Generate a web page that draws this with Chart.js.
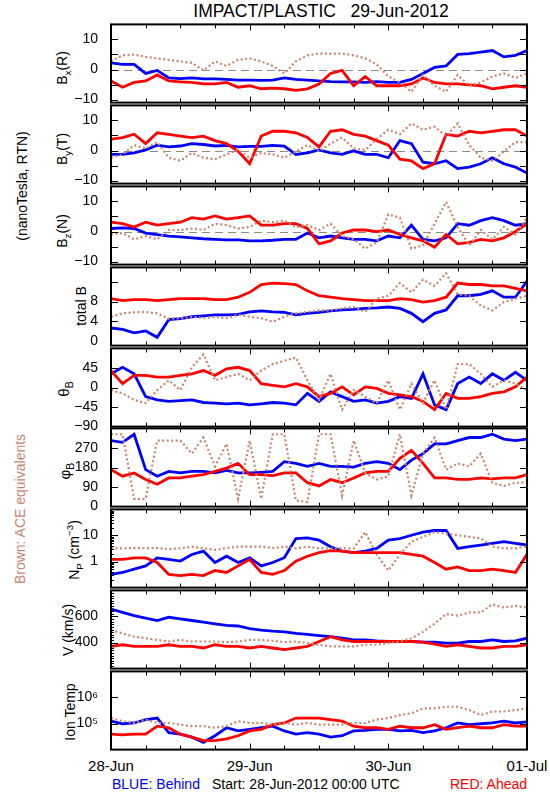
<!DOCTYPE html>
<html>
<head>
<meta charset="utf-8">
<script src="https://cdn.jsdelivr.net/npm/chart.js@4.4.1/dist/chart.umd.min.js"></script>
<style>
  body { margin: 0; width: 550px; height: 800px; background: #fff; position: relative; overflow: hidden;
         font-family: "Liberation Sans", Arial, sans-serif; }
  canvas { position: absolute; left: 0; }
  .lbl { position: absolute; white-space: nowrap; color: #000; line-height: 1; }
  .rot { transform: translate(-50%, -50%) rotate(-90deg); }
  .ctr { transform: translate(-50%, -50%); }
  sub { font-size: 70%; vertical-align: -0.35em; }
  sup { font-size: 70%; vertical-align: 0.6em; }
</style>
</head>
<body>

<div class="lbl ctr" style="left:321px;top:12px;font-size:17.5px">IMPACT/PLASTIC&nbsp;&nbsp;&nbsp;29-Jun-2012</div>

<div class="lbl rot" style="left:22px;top:186px;font-size:14px">(nanoTesla, RTN)</div>
<div class="lbl rot" style="left:20px;top:509px;font-size:14px;color:#c8866e">Brown: ACE equivalents</div>

<div class="lbl rot" style="left:64px;top:68px;font-size:14px">B<sub>x</sub>(R)</div>
<div class="lbl rot" style="left:64px;top:149px;font-size:14px">B<sub>y</sub>(T)</div>
<div class="lbl rot" style="left:64px;top:231px;font-size:14px">B<sub>z</sub>(N)</div>
<div class="lbl rot" style="left:81px;top:306px;font-size:14px">total B</div>
<div class="lbl rot" style="left:65px;top:389px;font-size:15px">θ<sub>B</sub></div>
<div class="lbl rot" style="left:66px;top:471px;font-size:15px">φ<sub>B</sub></div>
<div class="lbl rot" style="left:75px;top:550px;font-size:14px">N<sub>P</sub> (cm<sup>−3</sup>)</div>
<div class="lbl rot" style="left:68px;top:630px;font-size:14px">V (km/s)</div>
<div class="lbl rot" style="left:70px;top:712px;font-size:14px">Ion Temp</div>

<div id="days"></div>
<div class="lbl" style="left:112px;top:777px;font-size:14px;color:#0000ff">BLUE: Behind</div>
<div class="lbl" style="left:212px;top:777px;font-size:14px">Start: 28-Jun-2012 00:00 UTC</div>
<div class="lbl" style="left:450px;top:777px;font-size:14px;color:#ff0000">RED: Ahead</div>

<script>
// --- time axis (hours since 28-Jun-2012 00:00) ---
const HOURS = [0,2,4,6,8,10,12,14,16,18,20,22,24,26,28,30,32,34,36,38,40,42,44,46,48,50,52,54,56,58,60,62,64,66,68,70,72];
const DAY_HOURS = [0, 24, 48, 72];
const DAY_LABELS = ['28-Jun', '29-Jun', '30-Jun', '01-Jul'];
const X_TICKS = [6,12,18,24,30,36,42,48,54,60,66];

// --- Bx (R) ---
const bxBlue = [2.2,1.7,1.7,-1.3,-0.3,-2.8,-3.0,-2.8,-3.1,-3.1,-3.3,-3.5,-3.5,-3.6,-3.5,-2.8,-3.3,-3.5,-3.8,-4.0,-4.1,-4.1,-4.3,-4.0,-4.3,-4.3,-3.3,-1.3,0.7,1.2,5.0,5.3,5.8,6.3,4.2,4.7,6.3];
const bxRed  = [-3.8,-5.9,-4.3,-3.8,-1.8,-3.8,-4.1,-4.3,-4.8,-4.8,-4.3,-5.9,-5.4,-6.4,-6.2,-6.4,-6.9,-6.4,-4.8,-1.3,-0.3,-5.4,-2.3,-5.4,-5.4,-5.4,-4.8,-2.8,-4.3,-4.8,-4.8,-5.1,-5.4,-6.4,-5.9,-5.4,-5.9];
const bxAce  = [2.7,4.7,5.0,4.2,3.7,3.2,2.7,2.2,-0.3,2.7,1.2,3.2,3.7,2.7,1.2,-1.3,2.7,4.7,5.3,5.3,5.3,4.7,3.7,1.7,-2.3,-4.3,-7.4,-1.8,-5.4,-7.4,-1.8,-5.4,-4.3,-2.3,-1.3,-2.8,-1.3];

// --- By (T) ---
const byBlue = [-1.3,-1.3,-0.8,0.2,1.8,1.2,1.5,2.3,2.0,1.5,1.7,1.2,1.4,1.4,1.7,1.5,-1.3,-0.8,0.2,-0.8,-1.3,-0.1,-1.3,-1.3,-2.4,3.3,2.3,-3.9,-4.4,-3.4,-6.0,-5.5,-4.4,-2.4,-4.4,-5.5,-7.5];
const byRed  = [3.8,4.3,5.4,2.3,5.9,5.4,4.8,4.3,4.8,3.3,2.3,-0.3,-4.4,4.8,6.4,6.4,5.9,4.3,1.2,6.4,6.9,5.4,4.8,3.3,1.8,-2.9,-3.4,-6.0,-4.4,5.4,4.8,6.4,5.9,6.4,6.9,6.9,4.8];
const byAce  = [-2.4,-1.3,1.8,0.7,2.8,-2.4,-3.4,-0.8,-2.4,-2.9,-1.3,0.2,-2.4,-0.8,-1.3,-2.4,-0.3,1.8,-0.3,2.3,4.3,0.7,0.2,3.8,6.9,5.4,9.0,6.9,7.9,4.8,9.0,1.8,-2.4,-3.4,-0.3,2.8,2.8];

// --- Bz (N) ---
const bzBlue = [1.0,1.2,1.0,-0.5,-1.0,-1.5,-1.8,-2.1,-2.4,-2.6,-2.8,-2.8,-3.1,-3.1,-2.9,-2.6,-2.6,-0.5,-2.1,-1.5,-2.1,-2.6,-2.6,-3.1,-1.5,-2.1,2.1,-2.6,-3.1,-2.1,2.6,2.1,3.6,4.6,3.6,2.1,2.6];
const bzRed  = [3.1,2.6,1.5,3.1,2.1,2.6,3.1,4.6,4.1,5.2,4.1,4.6,5.2,2.1,2.1,2.6,2.6,1.0,-4.1,-3.1,-0.5,0.5,0.5,0.0,0.5,-1.0,-2.1,-3.1,-5.2,-1.0,-4.1,-3.6,-2.6,-3.1,-2.1,0.0,2.6];
const bzAce  = [-1.0,-0.5,-2.6,-1.5,-2.6,0.5,0.5,1.0,0.5,2.6,2.1,1.0,1.5,3.6,3.1,3.6,1.5,2.1,0.5,2.6,-1.5,-2.6,-5.7,-3.6,5.7,4.6,-5.7,-4.6,2.6,9.8,1.5,-4.6,0.5,-2.6,1.5,-1.0,4.6];

// --- total B ---
const btBlue = [2.6,2.3,1.6,2.0,0.7,4.3,4.5,4.9,5.1,5.3,5.3,5.4,5.9,6.1,5.9,5.8,5.3,5.6,5.8,6.1,6.3,6.4,6.6,6.7,6.9,6.6,5.6,3.9,5.6,6.3,9.2,9.2,9.5,10.2,8.9,8.9,12.2];
const btRed  = [8.6,8.2,8.4,8.4,8.2,8.4,8.6,8.6,8.6,8.4,8.4,8.9,9.9,11.5,11.8,11.7,11.5,10.2,9.2,8.9,8.6,8.4,8.2,8.2,8.2,8.6,8.4,7.9,8.2,8.9,11.8,11.5,11.5,11.2,11.2,10.7,10.2];
const btAce  = [4.9,5.6,5.8,5.9,5.6,4.5,4.6,4.9,4.6,4.9,4.6,5.3,4.9,4.6,3.9,4.9,5.6,5.9,6.2,6.2,6.6,6.9,5.9,8.6,9.2,11.8,9.9,12.5,11.2,13.8,9.5,9.2,7.2,6.2,7.9,8.6,9.2];

// --- theta B (deg) ---
const thBlue = [31.5,46.5,31.5,-21,-28.5,-32,-30,-28.5,-34.5,-36,-37.5,-36,-40,-37.5,-34.5,-36,-40,-13.5,-32,-10,-21,-32,-28.5,-36,-32,-21,-25,31.5,-40,-51,9,24,9,31.5,16.5,35,16.5];
const thRed  = [39,9,28,28,24,24,28,31.5,39,28,43,46.5,39,9,5,1.5,9,1.5,-21,-13.5,1.5,-17,1.5,-2,-13.5,-17,-21,-32,-51,-13.5,-25,-25,-21,-13.5,-10,1.5,24];
const thAce  = [-6,-13.5,-28.5,-36,-6,16.5,-6,46.5,76,16.5,24,31.5,16.5,39,54,61.5,69,16.5,-28.5,31.5,-51,-6,-21,-36,16.5,-51,9,-36,16.5,-51,54,54,31.5,1.5,16.5,9,-6];

// --- phi B (deg) ---
const phBlue = [304,296,333,170,140,162,155,162,162,155,167,155,155,158,162,207,199,185,199,185,185,182,199,207,199,170,214,244,289,289,304,318,318,333,311,304,311];
const phRed  = [170,140,155,125,103,132,132,140,147,162,177,199,147,147,143,155,155,110,95,125,110,132,155,162,162,222,259,199,132,132,125,125,132,128,132,132,147];
const phAce  = [333,333,36,36,304,304,304,244,318,185,289,36,304,36,333,333,28,21,333,333,51,304,155,125,140,333,51,244,318,170,199,185,244,110,95,110,110];

// --- proton density (cm^-3) ---
const npBlue = [0.32,0.38,0.51,0.68,1.38,1.2,1.04,1.86,2.5,0.92,1.6,0.92,1.4,0.68,0.92,1.4,7.6,8.1,6.6,3.7,2.5,2.2,2.5,3.2,6.6,7.6,10.2,13.5,15.5,15.5,3.2,3.7,4.3,5.0,5.8,5.0,4.3];
const npRed  = [1.2,1.2,1.38,1.38,0.92,0.32,0.29,0.32,0.29,0.45,0.38,0.68,1.2,0.38,0.32,0.45,1.04,1.6,2.2,2.6,2.5,2.2,2.2,2.2,2.2,2.2,1.9,1.6,0.92,0.51,0.62,0.45,0.45,0.51,0.45,0.38,1.9];
const npAce  = [3.2,3.2,3.3,3.2,3.3,3.0,3.2,3.7,3.2,2.8,3.3,3.7,3.7,3.7,3.3,3.7,3.2,3.7,3.2,3.2,3.2,3.2,13.5,1.84,0.45,1.84,5.8,8.9,13.5,11.8,10.2,8.9,7.7,3.8,3.2,3.2,3.8];

// --- bulk speed (km/s) ---
const vBlue = [656,631,606,587,569,594,582,569,557,544,532,527,507,495,487,482,470,462,453,445,433,420,420,413,408,408,408,403,403,396,396,408,408,420,408,413,433];
const vRed  = [371,383,371,371,371,383,371,371,358,383,371,371,358,371,358,346,358,371,408,445,420,408,408,408,408,408,408,403,388,371,383,371,358,358,371,371,383];
const vAce  = [495,470,445,433,420,408,420,408,408,408,403,408,420,420,413,403,408,396,383,371,371,371,383,383,396,408,433,482,544,619,606,631,631,693,668,681,668];

// --- ion temperature (K) ---
const tBlue = [1.23e5,9.8e4,1.05e5,1.41e5,1.62e5,4.5e4,3.9e4,3.0e4,1.9e4,3.4e4,6.9e4,5.2e4,6.0e4,6.9e4,7.9e4,5.2e4,3.9e4,4.5e4,3.9e4,3.0e4,3.4e4,5.2e4,5.5e4,6.0e4,6.0e4,5.2e4,5.5e4,4.5e4,5.2e4,6.9e4,1.05e5,9.1e4,9.8e4,1.05e5,1.23e5,1.05e5,1.15e5];
const tRed  = [3.9e4,3.7e4,3.9e4,3.9e4,7.9e4,6.9e4,3.9e4,3.0e4,2.2e4,2.2e4,2.6e4,3.4e4,5.2e4,6.0e4,9.1e4,1.05e5,1.62e5,1.62e5,1.62e5,1.41e5,1.23e5,7.9e4,6.9e4,6.9e4,6.0e4,7.9e4,6.9e4,6.9e4,9.1e4,6.0e4,6.9e4,7.9e4,6.9e4,6.9e4,9.1e4,7.9e4,7.9e4];
const tAce  = [1.62e5,1.23e5,1.05e5,1.41e5,1.05e5,1.05e5,9.1e4,7.9e4,7.9e4,6.9e4,7.9e4,1.23e5,1.05e5,1.05e5,9.1e4,1.05e5,9.1e4,1.05e5,9.1e4,9.1e4,9.1e4,1.05e5,1.05e5,1.41e5,1.62e5,2.1e5,2.5e5,3.8e5,3.8e5,4.4e5,4.4e5,3.3e5,2.1e5,2.9e5,2.9e5,3.3e5,3.8e5];

const BLUE = '#0000ff', RED = '#ff0000', BROWN = '#c8866e';
const FONT = '"Liberation Sans", Arial, sans-serif';
const SUPER = { 1e5: '10\u2075', 1e6: '10\u2076' };

const PANEL_H = 81, PAD = 12;
const panels = [
  { top: 23,  type: 'linear', min: -11, max: 15, labels: [-10, 0, 10], ticks: [-10, -5, 0, 5, 10], zero: 0, s: [bxAce, bxRed, bxBlue] },
  { top: 104, type: 'linear', min: -11, max: 15, labels: [-10, 0, 10], ticks: [-10, -5, 0, 5, 10], zero: 0, s: [byAce, byRed, byBlue] },
  { top: 185, type: 'linear', min: -11, max: 15, labels: [-10, 0, 10], ticks: [-10, -5, 0, 5, 10], zero: 0, s: [bzAce, bzRed, bzBlue] },
  { top: 266, type: 'linear', min: -1, max: 15, labels: [0, 4, 8], ticks: [4, 8, 12], s: [btAce, btRed, btBlue] },
  { top: 347, type: 'linear', min: -90, max: 90, labels: [-90, -45, 0, 45], ticks: [-45, 0, 45], s: [thAce, thRed, thBlue] },
  { top: 427, type: 'linear', min: 0, max: 360, labels: [0, 90, 180, 270], ticks: [90, 180, 270], s: [phAce, phRed, phBlue] },
  { top: 508, type: 'logarithmic', min: 0.1, max: 100, labels: [1, 10], ticks: [1, 10],
    minor: [0.2,0.3,0.4,0.5,0.6,0.7,0.8,0.9,2,3,4,5,6,7,8,9,20,30,40,50,60,70,80,90], s: [npAce, npRed, npBlue] },
  { top: 589, type: 'linear', min: 200, max: 800, labels: [400, 600], ticks: [400, 600],
    minor: [220,240,260,280,300,320,340,360,380,420,440,460,480,500,520,540,560,580,620,640,660,680,700,720,740,760,780], s: [vAce, vRed, vBlue] },
  { top: 670, type: 'logarithmic', min: 1e4, max: 1e7, labels: [1e5, 1e6], ticks: [1e5, 1e6], s: [tAce, tRed, tBlue] }
];

// frame, inward ticks and dashed zero line, IDL style
const framePlugin = {
  id: 'frame',
  beforeDatasetsDraw(chart, args, o) {
    if (o.zero === undefined) return;
    const { ctx, chartArea: a } = chart;
    const y = Math.round(chart.scales.y.getPixelForValue(o.zero)) + 0.5;
    ctx.save();
    ctx.strokeStyle = '#8c8c8c';
    ctx.lineWidth = 1.2;
    ctx.setLineDash([8, 5]);
    ctx.beginPath(); ctx.moveTo(a.left, y); ctx.lineTo(a.right, y); ctx.stroke();
    ctx.restore();
  },
  afterDatasetsDraw(chart, args, o) {
    const { ctx, chartArea: a, scales: { x, y } } = chart;
    ctx.save();
    ctx.strokeStyle = '#000';
    ctx.lineWidth = 1;
    ctx.beginPath();
    X_TICKS.forEach(h => {
      const px = Math.round(x.getPixelForValue(h)) + 0.5;
      const len = h % 24 === 0 ? 6 : 4;
      ctx.moveTo(px, a.top); ctx.lineTo(px, a.top + len);
      ctx.moveTo(px, a.bottom); ctx.lineTo(px, a.bottom - len);
    });
    (o.ticks || []).forEach(v => {
      const py = Math.round(y.getPixelForValue(v)) + 0.5;
      ctx.moveTo(a.left, py); ctx.lineTo(a.left + 7, py);
      ctx.moveTo(a.right, py); ctx.lineTo(a.right - 7, py);
    });
    (o.minor || []).forEach(v => {
      const py = Math.round(y.getPixelForValue(v)) + 0.5;
      ctx.moveTo(a.left, py); ctx.lineTo(a.left + 3, py);
    });
    ctx.stroke();
    ctx.lineWidth = 2;
    ctx.strokeRect(a.left, a.top, a.right - a.left, a.bottom - a.top);
    ctx.restore();
  }
};

function series(vals, color, dotted) {
  return {
    data: vals.map((v, i) => ({ x: HOURS[i], y: v })),
    borderColor: color,
    borderWidth: dotted ? 2.2 : 2.8,
    borderDash: dotted ? [2, 2.5] : [],
    pointRadius: 0,
    tension: 0,
    fill: false
  };
}

panels.forEach(p => {
  const cv = document.createElement('canvas');
  cv.width = 550;
  cv.height = PANEL_H + 2 * PAD;
  cv.style.top = (p.top - PAD) + 'px';
  document.body.appendChild(cv);

  new Chart(cv.getContext('2d'), {
    type: 'line',
    data: { datasets: [series(p.s[0], BROWN, true), series(p.s[1], RED), series(p.s[2], BLUE)] },
    options: {
      responsive: false,
      animation: false,
      layout: { padding: { top: PAD, bottom: PAD, left: 0, right: 23 } },
      plugins: {
        legend: { display: false },
        tooltip: { enabled: false },
        frame: { zero: p.zero, ticks: p.ticks, minor: p.minor }
      },
      scales: {
        x: { type: 'linear', min: 0, max: 72, display: false },
        y: {
          type: p.type, min: p.min, max: p.max,
          afterFit: s => { s.width = 111; },
          afterBuildTicks: s => { s.ticks = p.labels.map(v => ({ value: v })); },
          grid: { display: false },
          border: { display: false },
          ticks: {
            autoSkip: false,
            padding: 5,
            color: '#000',
            font: { family: FONT, size: 14 },
            callback: v => SUPER[v] || String(v).replace('-', '\u2212')
          }
        }
      }
    },
    plugins: [framePlugin]
  });
});

// day labels under the last panel
const days = document.getElementById('days');
DAY_HOURS.forEach((h, i) => {
  const d = document.createElement('div');
  d.className = 'lbl ctr';
  d.style.left = (111 + h / 72 * 416) + 'px';
  d.style.top = '765px';
  d.style.fontSize = '15px';
  d.textContent = DAY_LABELS[i];
  days.appendChild(d);
});
</script>
</body>
</html>
